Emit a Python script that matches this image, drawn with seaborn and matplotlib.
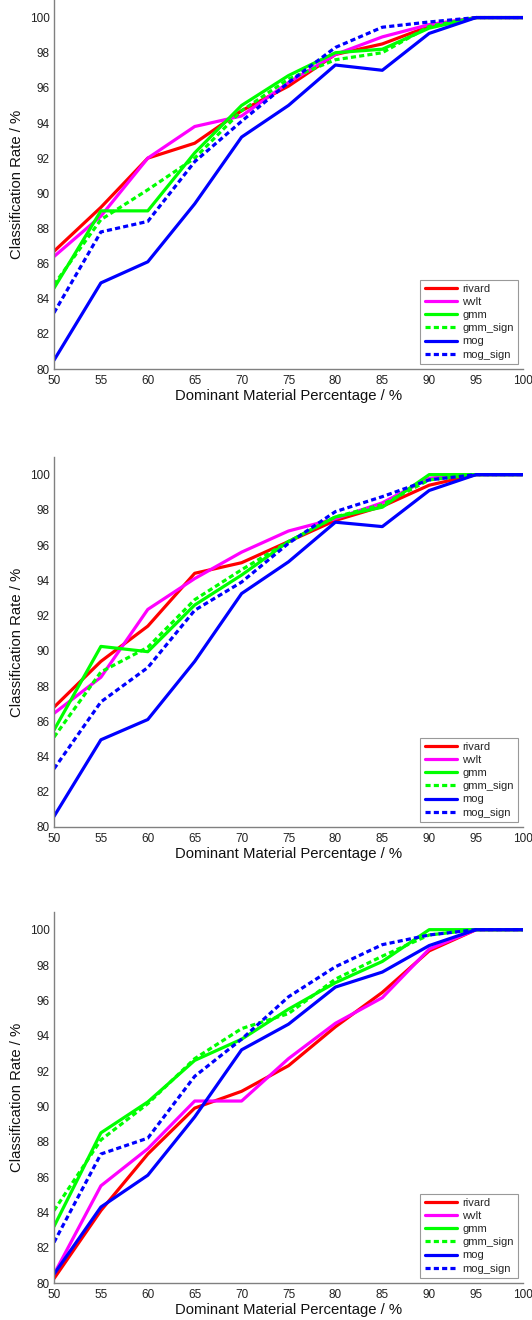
import matplotlib
matplotlib.use("Agg")
import matplotlib.pyplot as plt
import seaborn as sns
import pandas as pd

sns.set_theme(style="white")
plt.rcParams['font.family'] = ['Liberation Sans', 'DejaVu Sans']

x_pct = [50, 55, 60, 65, 70, 75, 80, 85, 90, 95, 100]
series_names = ["rivard", "wvlt", "gmm", "gmm_sign", "mog", "mog_sign"]

# Panel 1
p1_rivard   = [86.7, 89.2, 92.0, 92.85, 94.7, 96.1, 97.9, 98.5, 99.5, 100, 100]
p1_wvlt     = [86.4, 88.7, 92.0, 93.8, 94.4, 96.3, 97.9, 98.9, 99.6, 100, 100]
p1_gmm      = [84.6, 89.0, 89.0, 92.3, 95.0, 96.7, 98.0, 98.2, 99.4, 100, 100]
p1_gmm_sign = [84.8, 88.5, 90.2, 92.0, 94.7, 96.5, 97.6, 98.0, 99.5, 100, 100]
p1_mog      = [80.5, 84.9, 86.1, 89.4, 93.2, 95.0, 97.3, 97.0, 99.1, 100, 100]
p1_mog_sign = [83.2, 87.8, 88.4, 91.8, 94.1, 96.3, 98.3, 99.45, 99.75, 100, 100]

# Panel 2
p2_rivard   = [86.8, 89.4, 91.4, 94.4, 95.0, 96.2, 97.4, 98.2, 99.4, 100, 100]
p2_wvlt     = [86.45, 88.5, 92.35, 94.1, 95.6, 96.8, 97.5, 98.4, 99.8, 100, 100]
p2_gmm      = [85.5, 90.25, 89.95, 92.6, 94.3, 96.2, 97.6, 98.15, 100, 100, 100]
p2_gmm_sign = [85.1, 88.8, 90.2, 92.9, 94.6, 96.2, 97.6, 98.3, 99.7, 100, 100]
p2_mog      = [80.6, 84.95, 86.1, 89.4, 93.25, 95.05, 97.3, 97.05, 99.1, 100, 100]
p2_mog_sign = [83.3, 87.1, 89.05, 92.3, 93.9, 96.1, 97.9, 98.75, 99.7, 100, 100]

# Panel 3
p3_rivard   = [80.25, 84.1, 87.3, 89.9, 90.85, 92.3, 94.5, 96.45, 98.8, 100, 100]
p3_wvlt     = [80.5, 85.5, 87.6, 90.3, 90.3, 92.7, 94.7, 96.15, 98.9, 100, 100]
p3_gmm      = [83.2, 88.5, 90.25, 92.6, 93.8, 95.5, 97.0, 98.2, 100, 100, 100]
p3_gmm_sign = [84.1, 88.1, 90.15, 92.7, 94.4, 95.25, 97.2, 98.5, 99.7, 100, 100]
p3_mog      = [80.5, 84.3, 86.1, 89.4, 93.2, 94.65, 96.75, 97.6, 99.1, 100, 100]
p3_mog_sign = [82.3, 87.3, 88.2, 91.7, 93.8, 96.2, 97.9, 99.15, 99.7, 100, 100]

panels = [
    [p1_rivard, p1_wvlt, p1_gmm, p1_gmm_sign, p1_mog, p1_mog_sign],
    [p2_rivard, p2_wvlt, p2_gmm, p2_gmm_sign, p2_mog, p2_mog_sign],
    [p3_rivard, p3_wvlt, p3_gmm, p3_gmm_sign, p3_mog, p3_mog_sign],
]

colors = {"rivard": "#ff0000", "wvlt": "#ff00ff", "gmm": "#00ff00",
          "gmm_sign": "#00ff00", "mog": "#0000ff", "mog_sign": "#0000ff"}
styles = {"rivard": "-", "wvlt": "-", "gmm": "-", "gmm_sign": "--",
          "mog": "-", "mog_sign": "--"}

x_ticks = list(range(50, 101, 5))
y_ticks = list(range(80, 101, 2))

fig = plt.figure(figsize=(5.32, 13.2), dpi=100)
W, H = 532, 1320
left, right = 54, 523
tops = [0, 457, 912]
bottoms = [369, 827, 1283]
gray = "#808080"
lw = 2.3

for i, series in enumerate(panels):
    ax = fig.add_axes([left / W, 1 - bottoms[i] / H, (right - left) / W, (bottoms[i] - tops[i]) / H])
    for name, vals in zip(series_names, series):
        df = pd.DataFrame({"x": x_pct, "y": vals})
        sns.lineplot(data=df, x="x", y="y", ax=ax, color=colors[name],
                     linewidth=lw, label=name)
        ln = ax.lines[-1]
        if styles[name] == "--":
            ln.set_dashes([1.6, 1.0])
    ax.set_xlim(50, 100)
    ax.set_ylim(80, 101)
    ax.set_xticks(x_ticks)
    ax.set_yticks(y_ticks)
    ax.set_xticklabels([str(v) for v in x_ticks])
    ax.set_yticklabels([str(v) for v in y_ticks])
    for s in ["top", "right"]:
        ax.spines[s].set_visible(False)
    for s in ["left", "bottom"]:
        ax.spines[s].set_color(gray)
        ax.spines[s].set_linewidth(1.0)
    ax.tick_params(axis="both", direction="in", length=3.5, width=0.8, color=gray,
                   labelsize=8.5, labelcolor="#222222")
    ax.tick_params(axis="y", pad=3)
    ax.tick_params(axis="x", pad=4)
    ax.set_xlabel("Dominant Material Percentage / %", fontsize=10.7, color="#111111", labelpad=2)
    ax.set_ylabel("Classification Rate / %", fontsize=10.7, color="#111111", labelpad=4)
    ax.grid(False)
    leg = ax.legend(loc="lower right", fontsize=8, frameon=True, fancybox=False,
                    edgecolor=gray, handlelength=2.9, borderpad=0.4,
                    labelspacing=0.28, handletextpad=0.45, borderaxespad=0.45)
    leg.get_frame().set_linewidth(0.8)
    for line in leg.get_lines():
        line.set_linewidth(lw)

fig.savefig("out.png", dpi=100)
